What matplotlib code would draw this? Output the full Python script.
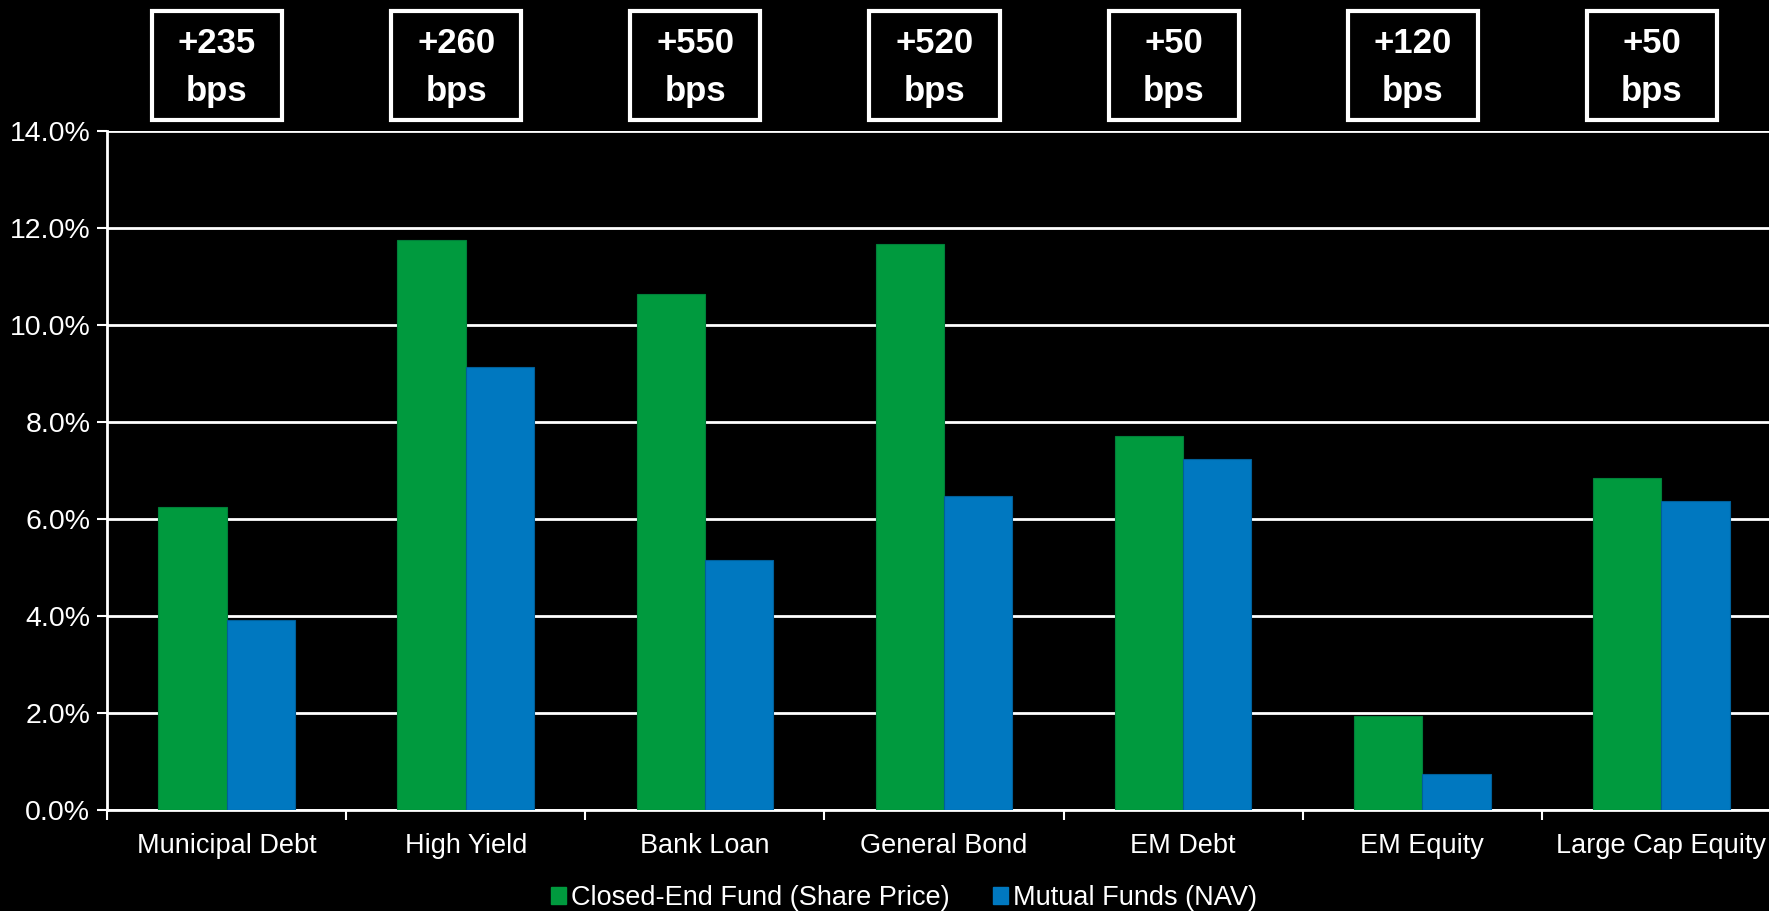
import matplotlib.pyplot as plt
import matplotlib.transforms as mtransforms
from matplotlib.patches import Rectangle, Patch
import numpy as np

plt.rcParams['font.family'] = ['Liberation Sans', 'DejaVu Sans']

categories = ['Municipal Debt', 'High Yield', 'Bank Loan', 'General Bond',
              'EM Debt', 'EM Equity', 'Large Cap Equity']
cef_price = [6.25, 11.76, 10.64, 11.67, 7.71, 1.93, 6.85]
mf_nav = [3.91, 9.14, 5.16, 6.48, 7.23, 0.75, 6.37]
spread_labels = ['+235\nbps', '+260\nbps', '+550\nbps', '+520\nbps',
                 '+50\nbps', '+120\nbps', '+50\nbps']
yticks = [0, 2, 4, 6, 8, 10, 12, 14]

green = '#009A3E'
blue = '#0078C0'

fig = plt.figure(figsize=(17.69, 9.11), dpi=100, facecolor='black')
ax = fig.add_axes([0.0605, 0.111, 0.9463, 0.745], facecolor='black')

x = np.arange(len(categories))
w = 0.2857
ax.bar(x - w / 2, cef_price, w, color=green, edgecolor='#00803a', linewidth=0.8, zorder=3,
       label='Closed-End Fund (Share Price)')
ax.bar(x + w / 2, mf_nav, w, color=blue, edgecolor='#005f99', linewidth=0.8, zorder=3,
       label='Mutual Funds (NAV)')

ax.set_xlim(-0.5, len(categories) - 0.5)
ax.set_ylim(0, 14)
ax.set_yticks(yticks)
ax.set_yticklabels([f'{v:.1f}%' for v in yticks])
ax.yaxis.grid(True, color='white', linewidth=2, zorder=0)
ax.set_axisbelow(True)

# category labels centered, ticks at boundaries
ax.set_xticks(x)
ax.set_xticklabels(categories)
ax.set_xticks(np.arange(len(categories) + 1) - 0.5, minor=True)
ax.tick_params(axis='x', which='major', length=0, colors='white', labelsize=19.5, pad=17)
ax.tick_params(axis='x', which='minor', length=7, width=1.5, color='white', direction='out')
ax.tick_params(axis='y', length=7, width=1.5, color='white', labelcolor='white', labelsize=20.5, pad=5)

for s in ['top', 'right']:
    ax.spines[s].set_visible(False)
for s in ['left', 'bottom']:
    ax.spines[s].set_color('white')
    ax.spines[s].set_linewidth(2)

# spread boxes above each category
trans = mtransforms.blended_transform_factory(ax.transData, fig.transFigure)
bw = 0.544
for i, lab in enumerate(spread_labels):
    cx = i - 0.04
    ax.add_patch(Rectangle((cx - bw / 2, 0.868), bw, 0.120, transform=trans,
                           fill=False, edgecolor='white', linewidth=3, clip_on=False))
    ax.text(cx, 0.926, lab, transform=trans, ha='center', va='center',
            color='white', fontsize=25, fontweight='bold', linespacing=1.55)

handles = [Patch(facecolor=green, edgecolor=green), Patch(facecolor=blue, edgecolor=blue)]
fig.legend(handles, ['Closed-End Fund (Share Price)', 'Mutual Funds (NAV)'],
           loc='lower center', bbox_to_anchor=(0.511, -0.027), ncol=2, frameon=False,
           fontsize=19.5, labelcolor='white', handlelength=0.55, handleheight=0.55,
           handletextpad=0.2, columnspacing=1.6)

fig.savefig('out.png', dpi=100, facecolor='black')
